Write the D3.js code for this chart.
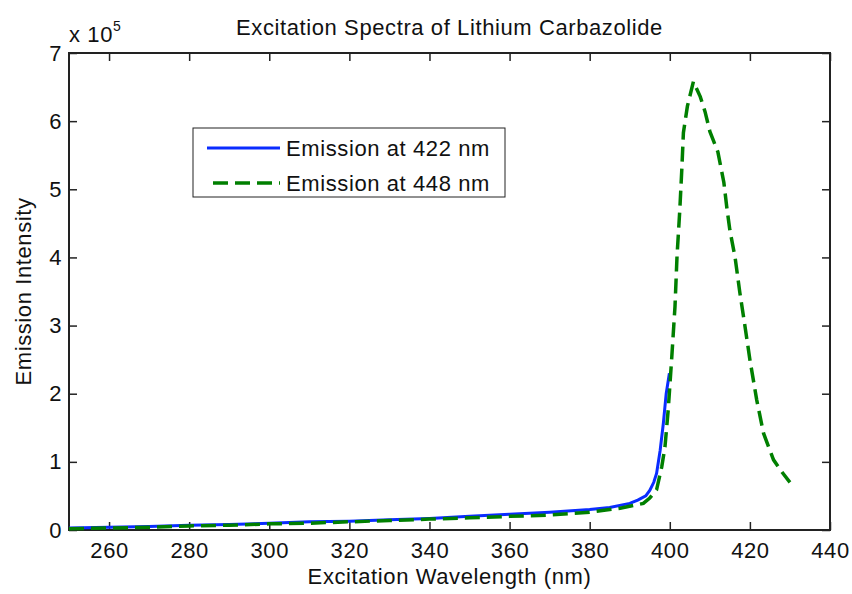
<!DOCTYPE html>
<html>
<head>
<meta charset="utf-8">
<script src="https://cdn.jsdelivr.net/npm/d3@7"></script>
<style>
  body { margin: 0; background: #fff; }
  svg text { font-family: "Liberation Sans", Arial, sans-serif; fill: #111; }
</style>
</head>
<body>
<div class="chart-container"></div>
<script>
// Emission at 422 nm (solid blue), intensity in units of 1e5
const blueWavelength = [250, 260, 270, 280, 290, 300, 310, 320, 330, 340, 350, 360, 370, 380, 385, 390, 392, 394, 395, 396, 396.7, 397.6, 398.4, 399.1, 399.9];
const blueIntensity  = [0.03, 0.04, 0.05, 0.07, 0.08, 0.10, 0.12, 0.13, 0.15, 0.17, 0.20, 0.23, 0.26, 0.30, 0.33, 0.39, 0.44, 0.50, 0.58, 0.70, 0.83, 1.17, 1.57, 2.00, 2.30];

// Emission at 448 nm (dashed green)
const greenWavelength = [250, 260, 270, 280, 290, 300, 310, 320, 330, 340, 350, 360, 370, 380, 387.6, 393.4, 395, 396.7, 398, 398.8, 399.6, 400.5, 401.3, 401.8, 402.5, 403, 403.4, 404.4, 405.9, 407.6, 408.8, 410, 412, 413.5, 414.2, 415, 416.3, 417.5, 418.8, 420, 421.7, 423.4, 425.9, 428, 430];
const greenIntensity  = [0.02, 0.03, 0.04, 0.06, 0.07, 0.09, 0.10, 0.12, 0.14, 0.16, 0.18, 0.20, 0.22, 0.26, 0.32, 0.39, 0.47, 0.59, 0.93, 1.22, 1.76, 2.54, 3.28, 4.01, 4.70, 5.29, 5.83, 6.22, 6.58, 6.36, 6.14, 5.85, 5.55, 5.10, 4.75, 4.40, 4.00, 3.48, 2.98, 2.50, 1.91, 1.42, 1.03, 0.85, 0.70];

const xTicks = [260, 280, 300, 320, 340, 360, 380, 400, 420, 440];
const yTicks = [0, 1, 2, 3, 4, 5, 6, 7];
const legendLabels = ["Emission at 422 nm", "Emission at 448 nm"];

function draw() {
    const width = 852;
    const height = 594;
    const marginTop = 53;
    const marginRight = 22;
    const marginBottom = 64;
    const marginLeft = 69;
    const fontSize = 22;
    const spacing = "0.6px";

    const x = d3.scaleLinear()
        .domain([250, 440])
        .range([marginLeft, width - marginRight]);

    const y = d3.scaleLinear()
        .domain([0, 7])
        .range([height - marginBottom, marginTop]);

    const svg = d3.select('.chart-container').append("svg")
        .attr("width", width)
        .attr("height", height);

    // Axes, ticks pointing inward on all four sides
    const styleAxis = g => {
        g.select(".domain").remove();
        g.selectAll(".tick line").attr("stroke", "#222").attr("stroke-width", 1.5);
        g.selectAll("text")
            .style("font-size", fontSize + "px")
            .style("letter-spacing", spacing)
            .attr("fill", "#111");
    };

    svg.append("g")
        .attr("transform", `translate(0,${height - marginBottom})`)
        .call(d3.axisBottom(x).tickValues(xTicks).tickSize(-8).tickPadding(12).tickFormat(d3.format("d")))
        .call(styleAxis);

    svg.append("g")
        .attr("transform", `translate(0,${marginTop})`)
        .call(d3.axisTop(x).tickValues(xTicks).tickSize(-8).tickFormat(""))
        .call(styleAxis);

    svg.append("g")
        .attr("transform", `translate(${marginLeft},0)`)
        .call(d3.axisLeft(y).tickValues(yTicks).tickSize(-8).tickPadding(7).tickFormat(d3.format("d")))
        .call(styleAxis);

    svg.append("g")
        .attr("transform", `translate(${width - marginRight},0)`)
        .call(d3.axisRight(y).tickValues(yTicks).tickSize(-8).tickFormat(""))
        .call(styleAxis);

    // Box
    svg.append("rect")
        .attr("x", marginLeft)
        .attr("y", marginTop)
        .attr("width", width - marginRight - marginLeft)
        .attr("height", height - marginBottom - marginTop)
        .attr("fill", "none")
        .attr("stroke", "#222")
        .attr("stroke-width", 2);

    // Lines
    const blue = blueWavelength.map((w, i) => [w, blueIntensity[i]]);
    const green = greenWavelength.map((w, i) => [w, greenIntensity[i]]);
    const line = d3.line().x(d => x(d[0])).y(d => y(d[1]));

    svg.append("path")
        .attr("d", line(blue))
        .attr("fill", "none")
        .attr("stroke", "#0a2cff")
        .attr("stroke-width", 3);

    svg.append("path")
        .attr("d", line(green))
        .attr("fill", "none")
        .attr("stroke", "#007f00")
        .attr("stroke-width", 3.5)
        .attr("stroke-dasharray", "15,7");

    // Title and labels
    svg.append("text")
        .attr("x", (marginLeft + width - marginRight) / 2)
        .attr("y", 35)
        .attr("text-anchor", "middle")
        .style("font-size", fontSize + "px")
        .style("letter-spacing", spacing)
        .text("Excitation Spectra of Lithium Carbazolide");

    svg.append("text")
        .attr("x", (marginLeft + width - marginRight) / 2)
        .attr("y", 584)
        .attr("text-anchor", "middle")
        .style("font-size", fontSize + "px")
        .style("letter-spacing", spacing)
        .text("Excitation Wavelength (nm)");

    svg.append("text")
        .attr("transform", `translate(31,${(marginTop + height - marginBottom) / 2}) rotate(-90)`)
        .attr("text-anchor", "middle")
        .style("font-size", fontSize + "px")
        .style("letter-spacing", spacing)
        .text("Emission Intensity");

    // Exponent label
    const expo = svg.append("text")
        .attr("x", 69)
        .attr("y", 42)
        .style("font-size", fontSize + "px")
        .style("letter-spacing", spacing);
    expo.append("tspan").text("x 10");
    expo.append("tspan")
        .attr("dy", -11)
        .style("font-size", "14px")
        .text("5");

    // Legend
    const legend = svg.append("g");
    legend.append("rect")
        .attr("x", 193)
        .attr("y", 128)
        .attr("width", 312)
        .attr("height", 69)
        .attr("fill", "#fff")
        .attr("stroke", "#222")
        .attr("stroke-width", 1);

    legend.append("line")
        .attr("x1", 207).attr("x2", 280)
        .attr("y1", 148).attr("y2", 148)
        .attr("stroke", "#0a2cff")
        .attr("stroke-width", 3);

    legend.append("line")
        .attr("x1", 213).attr("x2", 280)
        .attr("y1", 183).attr("y2", 183)
        .attr("stroke", "#007f00")
        .attr("stroke-width", 3.5)
        .attr("stroke-dasharray", "15,7");

    legendLabels.forEach((t, i) => {
        legend.append("text")
            .attr("x", 286)
            .attr("y", 156 + i * 35)
            .style("font-size", fontSize + "px")
            .style("letter-spacing", spacing)
            .text(t);
    });
}

draw();
</script>
</body>
</html>
